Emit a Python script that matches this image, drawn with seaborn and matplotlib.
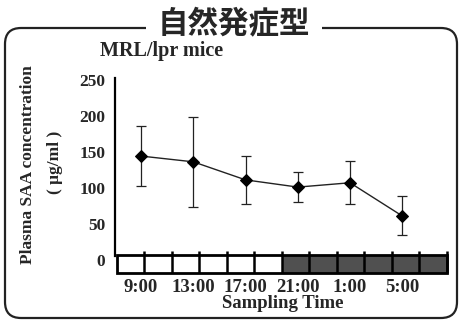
import matplotlib
matplotlib.use("Agg")
import matplotlib.pyplot as plt
from matplotlib.patches import FancyBboxPatch, Rectangle
import seaborn as sns
import pandas as pd

# Sampling times (hours from midnight, continuing past 24h) and plasma SAA (mean ± SD)
hours = [9, 13, 17, 21, 25, 29]
time_labels = ["9:00", "13:00", "17:00", "21:00", "1:00", "5:00"]
saa_mean = [144, 136, 111, 101, 107, 61]
saa_sd = [42, 62, 33, 21, 30, 27]
y_ticks = [0, 50, 100, 150, 200, 250]

df = pd.DataFrame({"hour": hours, "saa": saa_mean, "sd": saa_sd})

sns.set_theme(style="white")
plt.rcParams["font.family"] = ["Liberation Serif", "DejaVu Serif"]
plt.rcParams["font.weight"] = "bold"

fig = plt.figure(figsize=(4.59, 3.20), dpi=100)
ax = fig.add_axes([0.2505, 0.1469, 0.7255, 0.609])

# error bars, then the mean line with diamond markers
ax.errorbar(df["hour"], df["saa"], yerr=df["sd"], fmt="none",
            ecolor="#222222", elinewidth=0.9, capsize=3.8, capthick=0.9, zorder=2)
sns.lineplot(data=df, x="hour", y="saa", ax=ax, color="#222222", linewidth=1.0,
             marker="D", markersize=6.5, markeredgecolor="black",
             markerfacecolor="black", zorder=3)

# light/dark bar along the time axis (12 two-hour blocks)
band_x0, band_x1 = 7.15, 32.4
band_y0, band_y1 = -18, 7
n_seg = 12
seg_w = (band_x1 - band_x0) / n_seg
for i in range(n_seg):
    fc = "white" if i < 6 else "#505050"
    ax.add_patch(Rectangle((band_x0 + i * seg_w, band_y0), seg_w, band_y1 - band_y0,
                           facecolor=fc, edgecolor="none", zorder=1, clip_on=False))
ax.add_patch(Rectangle((band_x0, band_y0), band_x1 - band_x0, band_y1 - band_y0,
                       facecolor="none", edgecolor="black", linewidth=2.0,
                       zorder=4, clip_on=False))
for i in range(1, n_seg + 1):
    xi = band_x0 + i * seg_w
    ax.plot([xi, xi], [band_y0, band_y1 + 5], color="black", linewidth=1.8,
            zorder=4, clip_on=False, solid_capstyle="butt")

ax.set_xlim(7.0, 32.5)
ax.set_ylim(-18, 252)
ax.set_xticks(hours)
ax.set_xticklabels(time_labels, fontsize=13.5, fontweight="bold")
ax.set_yticks(y_ticks)
ax.set_yticklabels([str(v) for v in y_ticks], fontsize=12.5, fontweight="bold")
ax.tick_params(axis="x", length=0, pad=4)
ax.tick_params(axis="y", length=0, pad=7)
ax.set_xlabel("")
ax.set_ylabel("")

for s in ["top", "right", "bottom"]:
    ax.spines[s].set_visible(False)
ax.spines["left"].set_color("black")
ax.spines["left"].set_linewidth(1.6)
ax.spines["left"].set_bounds(band_y1 - 2, 252)

# labels
fig.text(283 / 459, 1 - 304 / 320, "Sampling Time", ha="center", va="center",
         fontsize=13.5, fontweight="bold")
fig.text(100 / 459, 1 - 56 / 320, "MRL/lpr mice", ha="left", va="baseline",
         fontsize=14.5, fontweight="bold", zorder=6)
fig.text(28 / 459, 1 - 165 / 320, "Plasma SAA concentration", rotation=90,
         ha="center", va="center", fontsize=12.5, fontweight="bold")
fig.text(55 / 459, 1 - 162 / 320, "( μg/ml )", rotation=90,
         ha="center", va="center", fontsize=12.5, fontweight="bold")

# rounded frame with the heading breaking its top edge
frame = FancyBboxPatch((5 / 459, 2 / 320), 452 / 459, 290 / 320,
                       boxstyle="round,pad=0,rounding_size=0.035",
                       transform=fig.transFigure, facecolor="none",
                       edgecolor="#222222", linewidth=1.6,
                       mutation_aspect=459 / 320, clip_on=False)
fig.patches.append(frame)
fig.text(234 / 459, 1 - 24 / 320, "自然発症型", ha="center", va="center",
         fontsize=22, fontweight="bold", zorder=4,
         family=["Noto Sans CJK JP", "DejaVu Sans"],
         bbox=dict(facecolor="white", edgecolor="none",
                   boxstyle="square,pad=0.4"))

fig.savefig("out.png", dpi=100)
